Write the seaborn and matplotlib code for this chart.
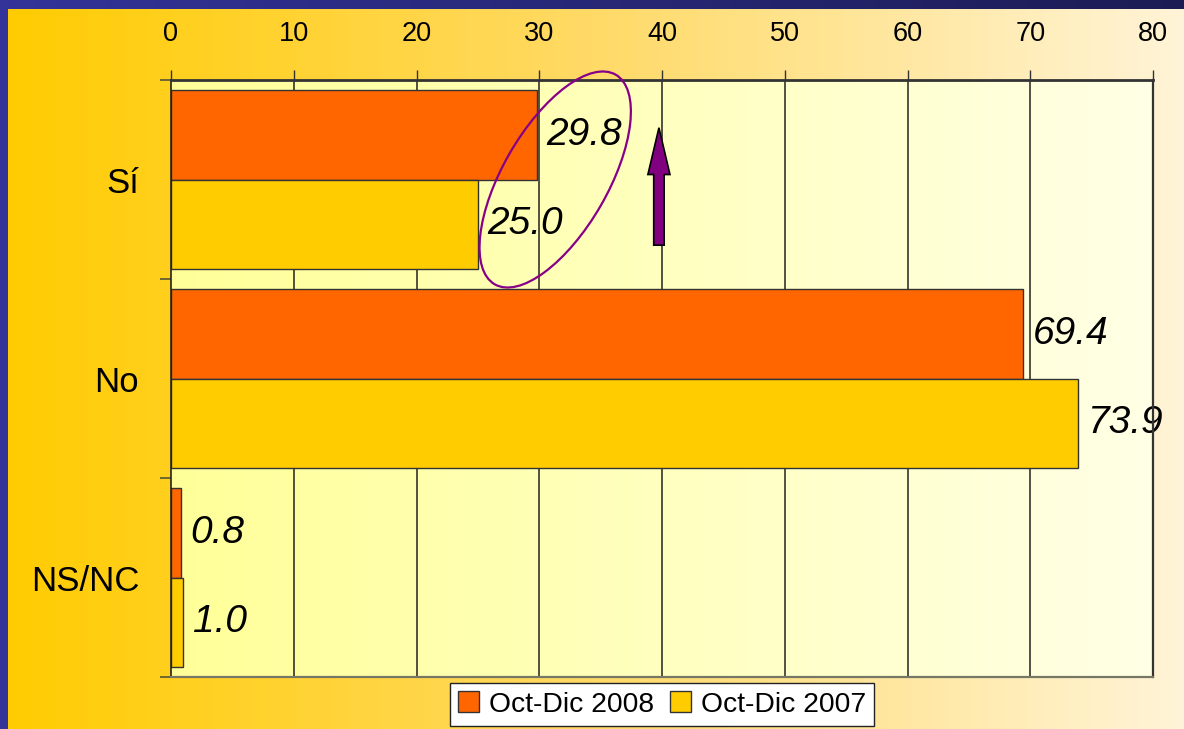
import numpy as np
import pandas as pd
import matplotlib
matplotlib.use("Agg")
import matplotlib.pyplot as plt
import seaborn as sns
from matplotlib.patches import Ellipse, FancyArrow, Rectangle
from matplotlib.transforms import IdentityTransform, ScaledTranslation
from matplotlib.colors import LinearSegmentedColormap

# Survey answers by period
categories = ["Sí", "No", "NS/NC"]
periods = ["Oct-Dic 2008", "Oct-Dic 2007"]
values_2008 = [29.8, 69.4, 0.8]
values_2007 = [25.0, 73.9, 1.0]
x_ticks = [0, 10, 20, 30, 40, 50, 60, 70, 80]

df = pd.DataFrame({
    "respuesta": categories * 2,
    "periodo": [periods[0]] * 3 + [periods[1]] * 3,
    "valor": values_2008 + values_2007,
})

sns.set_theme(style="white")
plt.rcParams["font.family"] = ["Liberation Sans", "DejaVu Sans"]
plt.rcParams["text.color"] = "black"

W, H = 1184, 729
fig = plt.figure(figsize=(W / 100, H / 100), dpi=100)

# Slide background: horizontal gradient from deep yellow to cream
bg = fig.add_axes([0, 0, 1, 1], zorder=-10)
bg_cmap = LinearSegmentedColormap.from_list("bg", ["#FFCC00", "#FFDA66", "#FFF4D8"])
bg.imshow(np.linspace(0, 1, 256)[None, :], aspect="auto", cmap=bg_cmap,
          extent=[0, 1, 0, 1])
bg.set_axis_off()

# Blue frame on the left and top edges
top_cmap = LinearSegmentedColormap.from_list("top", ["#333399", "#1C1C55"])
top_ax = fig.add_axes([0, 1 - 9 / H, 1, 9 / H], zorder=-5)
top_ax.imshow(np.linspace(0, 1, 256)[None, :], aspect="auto", cmap=top_cmap,
              extent=[0, 1, 0, 1])
top_ax.set_axis_off()
fig.patches.append(Rectangle((0, 0), 8 / W, 1, transform=fig.transFigure,
                             facecolor="#333399", edgecolor="none", zorder=-4))

ax = fig.add_axes([171 / W, 1 - 677 / H, (1153 - 171) / W, (677 - 80) / H])

palette = {periods[0]: "#FF6600", periods[1]: "#FFCC00"}
sns.barplot(data=df, y="respuesta", x="valor", hue="periodo", order=categories,
            hue_order=periods, palette=palette, orient="h", width=0.9,
            edgecolor="#333333", linewidth=1, saturation=1, ax=ax, zorder=2)

# Plot area gradient
pa_cmap = LinearSegmentedColormap.from_list("pa", ["#FFFF99", "#FFFFE6"])
ax.imshow(np.linspace(0, 1, 256)[None, :], aspect="auto", cmap=pa_cmap,
          extent=[0, 80, 2.5, -0.5], zorder=0)
ax.set_xlim(0, 80)
ax.set_ylim(2.5, -0.5)

# Vertical gridlines
for xv in x_ticks[1:-1]:
    ax.axvline(xv, color="#222222", lw=1.1, zorder=1)

# Value labels
for cont in ax.containers:
    ax.bar_label(cont, fmt="%.1f", padding=7, fontsize=28, fontstyle="italic",
                 color="black", zorder=5)

# Axes styling
ax.xaxis.tick_top()
ax.set_xticks(x_ticks)
ax.set_xticklabels([str(t) for t in x_ticks], fontsize=19.5)
ax.tick_params(axis="x", which="major", direction="out", length=7.5, width=1,
               color="#333333", labelcolor="black", pad=16, top=True,
               bottom=False)
ax.set_yticks(range(len(categories)))
ax.set_yticklabels(categories, fontsize=25)
ax.tick_params(axis="y", which="major", length=0, pad=23, labelcolor="black")
ax.set_yticks([-0.5, 0.5, 1.5, 2.5], minor=True)
ax.tick_params(axis="y", which="minor", direction="out", length=8, width=1.2,
               color="#555533", left=True)
ax.set_xlabel("")
ax.set_ylabel("")

ax.spines["top"].set_color("#333333")
ax.spines["top"].set_linewidth(2)
ax.spines["left"].set_color("#222222")
ax.spines["left"].set_linewidth(1.2)
ax.spines["right"].set_color("#333333")
ax.spines["right"].set_linewidth(1.6)
ax.spines["bottom"].set_color("#777766")
ax.spines["bottom"].set_linewidth(1.6)
for s in ax.spines.values():
    s.set_zorder(6)

# Legend below the chart
leg = ax.legend(loc="upper center", bbox_to_anchor=(0.5, -0.01), ncol=2,
                fontsize=20.3, frameon=True, fancybox=False, framealpha=1,
                edgecolor="#222222", handlelength=0.75, handleheight=0.75,
                handletextpad=0.35, columnspacing=0.55, borderpad=0.3,
                borderaxespad=0)
leg.get_frame().set_linewidth(1)

# Highlight around the "Sí" values and an upward arrow
ell_tr = IdentityTransform() + ScaledTranslation(31.3, 0.0, ax.transData)
ax.add_patch(Ellipse((0, 0), 242, 105, angle=60, transform=ell_tr,
                     facecolor="none", edgecolor="#880088", lw=1.6, zorder=7,
                     clip_on=False))
ax.add_patch(FancyArrow(39.75, 0.33, 0, -0.59, width=0.85, head_width=1.8,
                        head_length=0.235, length_includes_head=True,
                        facecolor="#800080", edgecolor="black", lw=1.2,
                        zorder=7))

fig.savefig("out.png", dpi=100)
